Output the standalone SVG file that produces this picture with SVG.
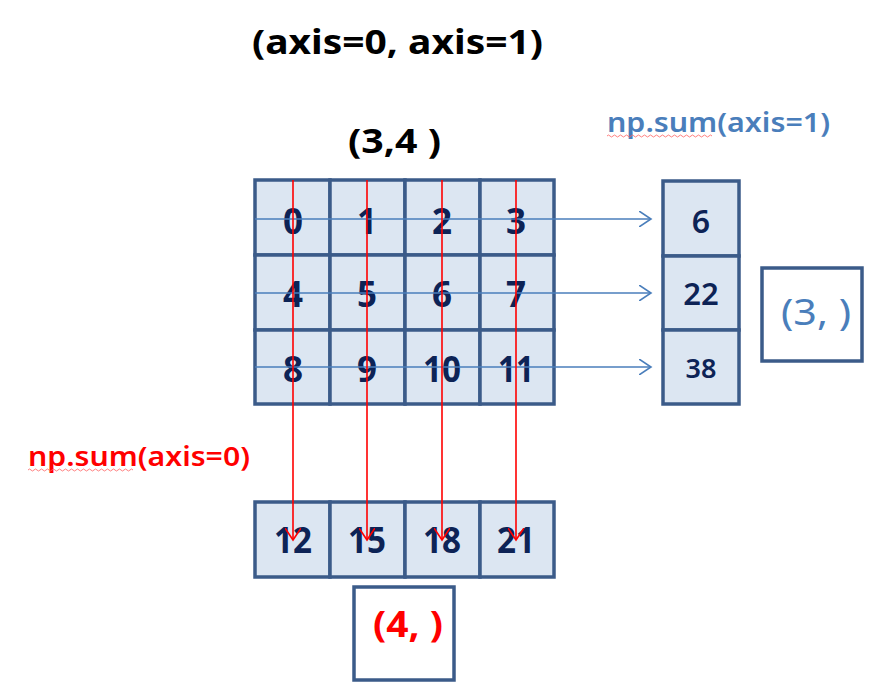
<svg xmlns="http://www.w3.org/2000/svg" width="883" height="700" viewBox="0 0 883 700">
<style>
.cell{fill:#dce6f2;stroke:#3b5b89;stroke-width:3.5}
.box{fill:#ffffff;stroke:#3b5b89;stroke-width:3.5}
.num{font-family:"Noto Sans","Open Sans",sans-serif;font-weight:bold;font-size:35px;fill:#0d2356;text-anchor:middle}
.rnum{font-family:"Noto Sans","Open Sans",sans-serif;font-weight:600;fill:#0d2356;text-anchor:middle}
.title{font-family:"Noto Sans","Open Sans",sans-serif;font-weight:bold;font-size:34px;fill:#000}
.red{stroke:#ff0000;stroke-width:1.6;fill:none}
.blue{stroke:#4a7ebb;stroke-width:1.6;fill:none}
</style>
<defs>
<marker id="ar" markerWidth="16" markerHeight="16" refX="12" refY="8" orient="auto" markerUnits="userSpaceOnUse"><path d="M0,0 L12,8 L0,16" fill="none" stroke="#ff0000" stroke-width="1.6"/></marker>
<marker id="ab" markerWidth="16" markerHeight="16" refX="12" refY="8" orient="auto" markerUnits="userSpaceOnUse"><path d="M0,0 L12,8 L0,16" fill="none" stroke="#4a7ebb" stroke-width="1.6"/></marker>
</defs>
<text class="title" x="252" y="54" textLength="291" lengthAdjust="spacingAndGlyphs">(axis=0, axis=1)</text>
<text class="title" x="348" y="153" textLength="93" lengthAdjust="spacingAndGlyphs">(3,4 )</text>
<g id="np-sum-axis1">
<text x="607" y="132" font-family="Noto Sans, Open Sans, sans-serif" font-weight="600" font-size="27" fill="#4a7ebb" textLength="223" lengthAdjust="spacingAndGlyphs">np.sum(axis=1)</text>
<path d="M607,136 q1.5,-2 3,0 t3,0 t3,0 t3,0 t3,0 t3,0 t3,0 t3,0 t3,0 t3,0 t3,0 t3,0 t3,0 t3,0 t3,0 t3,0 t3,0 t3,0 t3,0 t3,0 t3,0 t3,0 t3,0 t3,0 t3,0 t3,0 t3,0 t3,0 t3,0 t3,0 t3,0 t3,0 t3,0 t3,0 t3,0" fill="none" stroke="#ff6060" stroke-width="0.8"/>
</g>
<g id="np-sum-axis0">
<text x="28" y="466" font-family="Noto Sans, Open Sans, sans-serif" font-weight="600" font-size="27" fill="#ff0000" textLength="222" lengthAdjust="spacingAndGlyphs">np.sum(axis=0)</text>
<path d="M28,470 q1.5,-2 3,0 t3,0 t3,0 t3,0 t3,0 t3,0 t3,0 t3,0 t3,0 t3,0 t3,0 t3,0 t3,0 t3,0 t3,0 t3,0 t3,0 t3,0 t3,0 t3,0 t3,0 t3,0 t3,0 t3,0 t3,0 t3,0 t3,0 t3,0 t3,0 t3,0 t3,0 t3,0 t3,0 t3,0 t3,0" fill="none" stroke="#ff6060" stroke-width="0.8"/>
</g>
<g id="matrix">
<rect class="cell" x="255" y="180" width="75" height="75"/>
<rect class="cell" x="330" y="180" width="75" height="75"/>
<rect class="cell" x="405" y="180" width="75" height="75"/>
<rect class="cell" x="480" y="180" width="74" height="75"/>
<rect class="cell" x="255" y="255" width="75" height="75"/>
<rect class="cell" x="330" y="255" width="75" height="75"/>
<rect class="cell" x="405" y="255" width="75" height="75"/>
<rect class="cell" x="480" y="255" width="74" height="75"/>
<rect class="cell" x="255" y="330" width="75" height="74"/>
<rect class="cell" x="330" y="330" width="75" height="74"/>
<rect class="cell" x="405" y="330" width="75" height="74"/>
<rect class="cell" x="480" y="330" width="74" height="74"/>
<text class="num" x="293" y="234">0</text>
<text class="num" x="367" y="234">1</text>
<text class="num" x="442" y="234">2</text>
<text class="num" x="516" y="234">3</text>
<text class="num" x="293" y="307">4</text>
<text class="num" x="367" y="307">5</text>
<text class="num" x="442" y="307">6</text>
<text class="num" x="516" y="307">7</text>
<text class="num" x="293" y="382">8</text>
<text class="num" x="367" y="382">9</text>
<text class="num" x="442" y="382" textLength="38" lengthAdjust="spacingAndGlyphs">10</text>
<text class="num" x="516" y="382" textLength="36" lengthAdjust="spacingAndGlyphs">11</text>
</g>
<g id="row-sums">
<rect class="cell" x="663" y="181" width="76" height="75"/>
<rect class="cell" x="663" y="256" width="76" height="74"/>
<rect class="cell" x="663" y="330" width="76" height="74"/>
<text class="rnum" x="701" y="233" font-size="32">6</text>
<text class="rnum" x="701" y="305" font-size="31">22</text>
<text class="rnum" x="701" y="378" font-size="27">38</text>
</g>
<g id="shape-3">
<rect class="box" x="762" y="268" width="100" height="93"/>
<text x="781" y="325" font-family="Noto Sans, Open Sans, sans-serif" font-size="36" fill="#4a7ebb" textLength="70" lengthAdjust="spacingAndGlyphs">(3, )</text>
</g>
<g id="col-sums">
<rect class="cell" x="255" y="502" width="75" height="75"/>
<rect class="cell" x="330" y="502" width="75" height="75"/>
<rect class="cell" x="405" y="502" width="75" height="75"/>
<rect class="cell" x="480" y="502" width="74" height="75"/>
<text class="num" x="293" y="553" textLength="38" lengthAdjust="spacingAndGlyphs">12</text>
<text class="num" x="367" y="553" textLength="38" lengthAdjust="spacingAndGlyphs">15</text>
<text class="num" x="442" y="553" textLength="38" lengthAdjust="spacingAndGlyphs">18</text>
<text class="num" x="516" y="553" textLength="38" lengthAdjust="spacingAndGlyphs">21</text>
</g>
<g id="shape-4">
<rect class="box" x="354" y="587" width="100" height="93"/>
<text x="373" y="637" font-family="Noto Sans, Open Sans, sans-serif" font-weight="bold" font-size="36" fill="#ff0000" textLength="70" lengthAdjust="spacingAndGlyphs">(4, )</text>
</g>
<g id="connectors">
<line class="blue" x1="255" y1="219" x2="651" y2="219" marker-end="url(#ab)"/>
<line class="blue" x1="255" y1="293" x2="651" y2="293" marker-end="url(#ab)"/>
<line class="blue" x1="255" y1="367" x2="651" y2="367" marker-end="url(#ab)"/>
<line class="red" x1="293" y1="180" x2="293" y2="540" marker-end="url(#ar)"/>
<line class="red" x1="367" y1="180" x2="367" y2="540" marker-end="url(#ar)"/>
<line class="red" x1="442" y1="180" x2="442" y2="540" marker-end="url(#ar)"/>
<line class="red" x1="516" y1="180" x2="516" y2="540" marker-end="url(#ar)"/>
</g>
</svg>
